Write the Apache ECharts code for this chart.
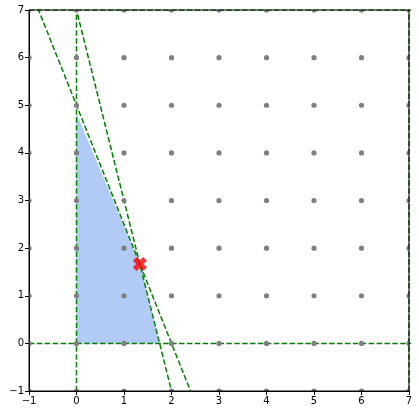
<!DOCTYPE html>
<html><head><meta charset="utf-8">
<script src="https://cdn.jsdelivr.net/npm/echarts@6/dist/echarts.min.js"></script>
<style>html,body{margin:0;padding:0;background:#fff}#c{width:419px;height:415px}</style>
</head><body><div id="c"></div>
<script>
// lattice coordinates
var latticeX = [-1, 0, 1, 2, 3, 4, 5, 6, 7];
var latticeY = [-1, 0, 1, 2, 3, 4, 5, 6, 7];
// constraint lines (endpoints)
var line1 = [[-1, 7.5], [3, -2.5]];      // 5x + 2y = 10
var line2 = [[-0.5, 9], [2.5, -3]];      // 4x + y = 7
var lineX0 = [[0, -2], [0, 8]];
var lineY0 = [[-2, 0], [8, 0]];
var lineX7 = [[7, -2], [7, 8]];
var lineY7 = [[-2, 7], [8, 7]];
// feasible region polygon
var regionPoly = [[0, 0], [0, 4.83], [1.3333, 1.6667], [1.75, 0]];
// optimum point
var optimum = [[1.3333, 1.6667]];
var tickVals = [-1, 0, 1, 2, 3, 4, 5, 6, 7];

var pts = [];
latticeX.forEach(function (x) { latticeY.forEach(function (y) { pts.push([x, y]); }); });

var FONT = 'DejaVu Sans';
function axis(minV, maxV) {
  return {
    type: 'value', min: minV, max: maxV, interval: 1,
    axisLine: { show: true, onZero: false, lineStyle: { color: '#000', width: 1 } },
    axisTick: { show: true, inside: false, length: 4, lineStyle: { color: '#000', width: 1 } },
    axisLabel: { color: '#000', fontSize: 10, fontFamily: FONT, margin: 5,
      formatter: function (v) { return v < 0 ? '\u2212' + Math.abs(v) : String(v); } },
    splitLine: { show: false }
  };
}
function dashLine(d) {
  return { type: 'line', data: d, symbol: 'none', clip: true, z: 3,
    lineStyle: { color: '#008000', width: 1.5, type: [5.5, 2.4] }, silent: true };
}
var chart = echarts.init(document.getElementById('c'));
chart.setOption({
  animation: false,
  grid: { left: 29, right: 10, top: 10, bottom: 24, show: true, borderColor: '#000', borderWidth: 1, backgroundColor: 'transparent', z: 10 },
  xAxis: axis(-1, 7),
  yAxis: axis(-1, 7),
  series: [
    { type: 'custom', z: 1, clip: true, data: [0],
      renderItem: function (params, api) {
        var p = regionPoly.map(function (v) { return api.coord(v); });
        return { type: 'polygon', shape: { points: p }, style: { fill: 'rgba(100,149,237,0.5)' } };
      } },
    dashLine(line1), dashLine(line2), dashLine(lineX0), dashLine(lineY0), dashLine(lineX7), dashLine(lineY7),
    { type: 'custom', data: pts, clip: true, z: 4,
      encode: { x: 0, y: 1 },
      renderItem: function (params, api) {
        var c = api.coord([api.value(0), api.value(1)]);
        return { type: 'circle', shape: { cx: c[0], cy: c[1], r: 2.6 }, style: { fill: '#808080' } };
      } },
    { type: 'scatter', data: optimum, z: 6, symbolSize: 14,
      symbol: 'path://M0,2.6 L2.6,0 L5,2.4 L7.4,0 L10,2.6 L7.6,5 L10,7.4 L7.4,10 L5,7.6 L2.6,10 L0,7.4 L2.4,5 Z',
      itemStyle: { color: '#ff0000' } }
  ]
});
</script></body></html>
